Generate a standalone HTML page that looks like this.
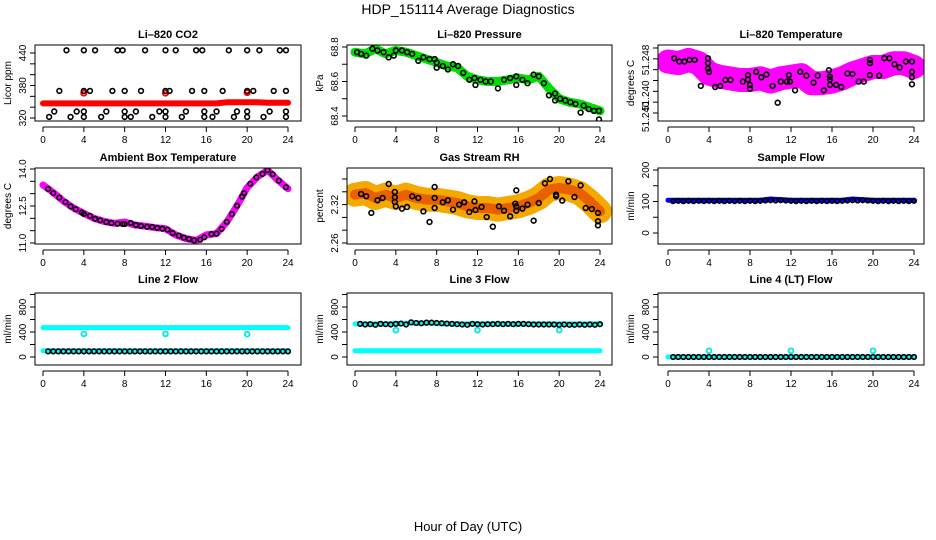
<!DOCTYPE html>
<html><head><meta charset="utf-8"><style>
html,body{margin:0;padding:0;background:#fff;}
svg{display:block;font-family:"Liberation Sans",sans-serif;}
</style></head><body>
<svg id="chart" width="936" height="540" viewBox="0 0 936 540">
<text x="468" y="14" text-anchor="middle" font-size="14">HDP_151114  Average Diagnostics</text>
<text x="468" y="531" text-anchor="middle" font-size="13">Hour of Day (UTC)</text>
</svg>
<script>
// ---------- data ----------
const hours = [0,1,2,3,4,5,6,7,8,9,10,11,12,13,14,15,16,17,18,19,20,21,22,23,24];
const halfHours = [0.5,1,1.5,2,2.5,3,3.5,4,4.5,5,5.5,6,6.5,7,7.5,8,8.5,9,9.5,10,10.5,11,11.5,12,12.5,13,13.5,14,14.5,15,15.5,16,16.5,17,17.5,18,18.5,19,19.5,20,20.5,21,21.5,22,22.5,23,23.5,24];
const xTicks = [0,4,8,12,16,20,24];

// CO2
const co2BlackHours = [2.3,4,5.1,7.3,7.8,10,12,13,15,15.6,18.2,20,21.2,23.2,23.8, 1.6,4,4.6,6.8,8,9.6,12,12.4,14.6,15.8,17.6,20,20.6,22.6,23.8, 1.1,3.3,4,6.2,8,9.1,11.4,12,14,15.8,17,19,20,22.2,23.8, 0.6,2.7,4,5.7,8,8.6,10.7,12,13.6,15.8,16.6,18.7,20,21.6,23.8];
const co2BlackValues = [445,445,445,445,445,445,445,445,445,445,445,445,445,445,445, 370,370,370,370,370,370,370,370,370,370,370,370,370,370,370, 332,332,332,332,332,332,332,332,332,332,332,332,332,332,332, 322,322,322,322,322,322,322,322,322,322,322,322,322,322,322];
const co2RedBand = [347,347,347,347,347,347,347,347,347,347,347,347,347,347,347,347,347,347,349,349,349,349,348,348,348];
const co2RedSpotHours = [4,12,20];
const co2RedSpotValues = [366,366,367];

// Pressure
const presBlackHours = [0.2,0.6,1.1,1.7,2.2,2.8,3.3,3.8,4,4.6,5.1,5.6,6.2,6.7,7.3,7.8,8,8,8.6,9.1,9.6,10.1,10.6,11.2,11.7,11.8,12.3,12.8,13.3,14,14.6,15.2,15.8,15.8,16.4,16.9,17.5,18,18.5,19,19.6,19.6,20.1,20.6,21.1,21.6,22.1,22.4,22.9,23.4,23.9,23.9];
const presBlackValues = [68.77,68.76,68.75,68.79,68.78,68.77,68.74,68.75,68.78,68.78,68.77,68.76,68.72,68.74,68.73,68.73,68.71,68.68,68.69,68.67,68.70,68.69,68.65,68.61,68.62,68.58,68.61,68.60,68.60,68.56,68.61,68.62,68.63,68.58,68.61,68.59,68.64,68.63,68.59,68.52,68.53,68.49,68.50,68.49,68.48,68.47,68.42,68.46,68.44,68.43,68.43,68.38];
const presGreenBand = [68.77,68.76,68.79,68.76,68.78,68.77,68.75,68.73,68.71,68.69,68.68,68.63,68.61,68.60,68.60,68.61,68.62,68.61,68.63,68.56,68.50,68.48,68.47,68.45,68.43];

// Li-820 Temperature
const tempBlackHours = [0.6,1.1,1.6,2.1,2.6,3.2,3.9,3.9,3.9,4,4.6,5.1,5.6,6.1,7.3,7.8,7.8,8,8,8.6,9.1,9.6,10.2,10.7,11,11.6,11.8,11.9,12.4,12.9,13.5,14.2,14.6,15.2,15.7,15.8,15.8,15.8,16.4,16.9,17.5,18,18.6,19.1,19.7,19.7,19.7,20.6,21.1,21.6,22.1,22.6,23.2,23.8,23.8,23.8,23.8];
const tempBlackValues = [51.2481,51.2475,51.2475,51.2478,51.2478,51.2430,51.2481,51.2472,51.2462,51.2456,51.2428,51.2430,51.2441,51.2441,51.2438,51.2450,51.2442,51.2432,51.2425,51.2456,51.2446,51.2451,51.2430,51.2399,51.2438,51.2438,51.2450,51.2438,51.2422,51.2456,51.2449,51.2436,51.2449,51.2422,51.2459,51.2447,51.2442,51.2432,51.2432,51.2428,51.2453,51.2452,51.2438,51.2438,51.2478,51.2472,51.2450,51.2449,51.2481,51.2481,51.2470,51.2464,51.2475,51.2475,51.2456,51.2446,51.2433];
const tempMagentaBand = [51.2475,51.2472,51.2478,51.2472,51.2453,51.2447,51.2444,51.2441,51.2441,51.2444,51.2438,51.2444,51.2447,51.2450,51.2435,51.2435,51.2438,51.2444,51.2453,51.2459,51.2465,51.2465,51.2472,51.2472,51.2465];

// Ambient box temperature
const ambBlackHours = [0.5,1,1.6,2.2,2.7,3.2,3.8,4,4.6,5.1,5.6,6.2,6.7,7.3,7.8,8,8.6,9.1,9.6,10.2,10.7,11.2,11.7,12.2,12.7,13.3,13.8,14.3,14.8,15.4,15.8,16.5,17,17.5,18,18.5,19,19.5,19.7,20.3,20.9,21.5,22,22.5,23.1,23.8];
const ambBlackValues = [13.19,13.02,12.84,12.66,12.48,12.37,12.24,12.18,12.10,11.98,11.92,11.85,11.81,11.78,11.77,11.77,11.81,11.73,11.69,11.66,11.65,11.61,11.58,11.54,11.40,11.30,11.22,11.16,11.11,11.13,11.23,11.36,11.38,11.57,11.85,12.17,12.51,12.88,13.02,13.40,13.66,13.80,13.95,13.79,13.53,13.26];
const ambMagentaBand = [13.35,13.05,12.7,12.42,12.2,12.0,11.87,11.8,11.85,11.73,11.68,11.62,11.58,11.33,11.18,11.1,11.33,11.38,11.85,12.51,13.25,13.68,13.95,13.55,13.2];

// Gas stream RH
const rhBlackHours = [0.6,1.1,1.6,2.2,2.7,3.3,3.9,3.9,3.9,4,4.6,5.1,5.6,6.2,6.7,7.3,7.8,7.8,7.8,8.6,9.1,9.6,10.2,10.7,11.2,11.7,11.8,12.4,12.9,13.5,14.1,14.6,15.2,15.7,15.8,15.8,15.8,16.4,16.9,17.5,18,18.6,19.1,19.7,19.7,20.3,20.9,21.5,22.1,22.6,23.2,23.8,23.8,23.8];
const rhBlackValues = [2.3366,2.3330,2.3070,2.3267,2.3303,2.3522,2.3397,2.3314,2.3241,2.3173,2.3137,2.3163,2.3330,2.3303,2.3095,2.2928,2.3475,2.3303,2.3147,2.3236,2.3267,2.3121,2.3199,2.3236,2.3085,2.3251,2.3116,2.3163,2.3006,2.2855,2.3173,2.3105,2.3017,2.3215,2.3423,2.3105,2.3173,2.3137,2.3199,2.2949,2.3225,2.3533,2.3600,2.3355,2.3330,2.3262,2.3564,2.3319,2.3501,2.3147,2.3131,2.3070,2.2939,2.2876];
const rhOrangeBand = [2.3355,2.3381,2.3303,2.3355,2.3303,2.3355,2.3303,2.3277,2.3277,2.3251,2.3225,2.3173,2.3147,2.3147,2.3121,2.3147,2.3173,2.3225,2.3303,2.3434,2.3460,2.3434,2.3381,2.3251,2.3095];

// Sample flow
const sampleBlueBand = [104,104,104,104,104,104,104,104,104,104,108,106,104,104,104,104,104,104,108,106,104,104,104,104,104];
const sampleBlack = [101,102,101,102,101,102,101,102,101,102,101,102,101,102,101,102,101,102,103,104,103,104,103,102,101,102,101,102,101,102,101,102,101,102,103,104,103,104,103,102,101,102,101,102,101,102,101,102];

// Line 2 flow
const line2CyanHigh = [470,470,470,470,470,470,470,470,470,470,470,470,470,470,470,470,470,470,470,470,470,472,472,472,470];
const line2CyanLow = [100,100,100,100,100,100,100,100,100,100,100,100,100,100,100,100,100,100,100,100,100,100,100,100,100];
const line2Black = [90,90,90,90,90,90,90,90,90,90,90,90,90,90,90,90,90,90,90,90,90,90,90,90,90,90,90,90,90,90,90,90,90,90,90,90,90,90,90,90,90,90,90,90,90,90,90,90];
const line2SpotHours = [4,12,20];
const line2SpotValues = [370,370,365];

// Line 3 flow
const line3CyanHigh = [530,530,530,530,535,540,540,540,535,530,530,530,530,530,530,530,530,530,530,530,530,530,530,530,530];
const line3CyanLow = [100,100,100,100,100,100,100,100,100,100,100,100,100,100,100,100,100,100,100,100,100,100,100,100,100];
const line3Black = [530,520,525,515,530,525,520,530,535,520,555,545,540,550,550,545,540,535,530,525,520,515,530,525,520,525,525,530,525,530,525,530,530,525,520,520,520,520,520,515,520,515,515,520,515,520,515,525];
const line3SpotHours = [4,12,20];
const line3SpotValues = [430,430,430];

// Line 4 flow
const line4CyanBand = [0,0,0,0,0,0,0,0,0,0,0,0,0,0,0,0,0,0,0,0,0,0,0,0,0];
const line4Black = [0,0,0,0,0,0,0,0,0,0,0,0,0,0,0,0,0,0,0,0,0,0,0,0,0,0,0,0,0,0,0,0,0,0,0,0,0,0,0,0,0,0,0,0,0,0,0,0];
const line4SpotHours = [4,12,20];
const line4SpotValues = [100,100,100];

// ---------- drawing ----------
const svg = document.getElementById('chart');
const NS = 'http://www.w3.org/2000/svg';
function mk(tag, attrs, parent){
  const e = document.createElementNS(NS, tag);
  for (const k in attrs) e.setAttribute(k, attrs[k]);
  (parent||svg).appendChild(e);
  return e;
}
const cols = [
  {bx0:35, bx1:301, h0:43, h24:288},
  {bx0:347, bx1:612, h0:355, h24:600},
  {bx0:658, bx1:924, h0:668, h24:914}
];
const rows = [
  {by0:45, by1:121, ty:38},
  {by0:168, by1:244, ty:161},
  {by0:293, by1:365, ty:283}
];

function makePanel(name, r, c, title, ylab, va, pa, vb, pb, yticks, ylabels){
  const R = rows[r], C = cols[c];
  const g = mk('g', {});
  
  
  const xs = h => C.h0 + (h/24)*(C.h24 - C.h0);
  const ys = v => pa + (v - va)*(pb - pa)/(vb - va);
  const t = mk('text', {x:(C.bx0+C.bx1)/2, y:R.ty, 'text-anchor':'middle', 'font-size':11, 'font-weight':'bold'}, g);
  t.textContent = title;
  
  
  const yl = mk('text', {x:0, y:0, 'text-anchor':'middle', 'font-size':10, transform:`translate(${C.bx0-24},${(R.by0+R.by1)/2}) rotate(-90)`}, g);
  yl.textContent = ylab;
  
  
  const ax = R.by1 + 6;
  const xl = mk('line', {x1:xs(0), x2:xs(24), y1:ax, y2:ax, stroke:'#000'}, g);
  
  
  xTicks.forEach(h => {
    mk('line', {x1:xs(h), x2:xs(h), y1:ax, y2:ax+5, stroke:'#000'}, g);
    const tl = mk('text', {x:xs(h), y:ax+16, 'text-anchor':'middle', 'font-size':10}, g);
    tl.textContent = String(h);
    
    
  });
  yticks.forEach(v => mk('line', {x1:C.bx0-5, x2:C.bx0, y1:ys(v), y2:ys(v), stroke:'#000'}, g));
  ylabels.forEach(lv => {
    const tl = mk('text', {x:0, y:0, 'text-anchor':'middle', 'font-size':10, transform:`translate(${C.bx0-9},${ys(lv[0])}) rotate(-90)`}, g);
    tl.textContent = lv[1];
    
    
  });
  const cid = 'clip-' + name;
  const cp = mk('clipPath', {id:cid}, g);
  mk('rect', {x:C.bx0, y:R.by0, width:C.bx1-C.bx0, height:R.by1-R.by0}, cp);
  const plot = mk('g', {'clip-path':`url(#${cid})`}, g);
  
  
  const box = mk('rect', {x:C.bx0, y:R.by0, width:C.bx1-C.bx0, height:R.by1-R.by0, fill:'none', stroke:'#000'}, g);
  
  
  return {plot, xs, ys, name};
}
function band(P, xsArr, vals, color, width, nm){
  const pts = xsArr.map((h,i) => P.xs(h).toFixed(1) + ',' + P.ys(vals[i]).toFixed(1)).join(' ');
  const pl = mk('polyline', {points:pts, fill:'none', stroke:color, 'stroke-width':width, 'stroke-linejoin':'round', 'stroke-linecap':'round'}, P.plot);
  
  
}
function pts(P, xsArr, vals, color, r, sw, nm){
  xsArr.forEach((h,i) => {
    const c = mk('circle', {cx:P.xs(h), cy:P.ys(vals[i]), r:r, fill:'none', stroke:color, 'stroke-width':sw}, P.plot);
    
    
  });
}

let P = makePanel('co2', 0, 0, 'Li\u2013820 CO2', 'Licor ppm', 320, 118, 440, 53,
  [320,340,360,380,400,420,440], [[320,'320'],[380,'380'],[440,'440']]);
band(P, hours, co2RedBand, '#ff0000', 6, 'red-series');
pts(P, co2RedSpotHours, co2RedSpotValues, '#ff0000', 2.6, 2, 'red-point');
pts(P, co2BlackHours, co2BlackValues, '#000', 2.4, 1.6, 'black-point');

P = makePanel('pressure', 0, 1, 'Li\u2013820 Pressure', 'kPa', 68.4, 116, 68.8, 47,
  [68.4,68.5,68.6,68.7,68.8], [[68.4,'68.4'],[68.6,'68.6'],[68.8,'68.8']]);
band(P, hours, presGreenBand, '#00e000', 9, 'green-series');
pts(P, presBlackHours, presBlackValues, '#000', 2.4, 1.6, 'black-point');

P = makePanel('li820-temperature', 0, 2, 'Li\u2013820 Temperature', 'degrees C', 51.238, 113, 51.250, 48,
  [51.238,51.240,51.242,51.244,51.246,51.248,51.250], [[51.2373,'51.240'],[51.2412,'51.240'],[51.2478,'51.248']]);
band(P, hours, tempMagentaBand, '#ff00ff', 24, 'magenta-series');
pts(P, tempBlackHours, tempBlackValues, '#000', 2.4, 1.6, 'black-point');

P = makePanel('ambient-temperature', 1, 0, 'Ambient Box Temperature', 'degrees C', 11, 243, 14, 169,
  [11,11.5,12,12.5,13,13.5,14], [[11,'11.0'],[12.5,'12.5'],[14,'14.0']]);
band(P, hours, ambMagentaBand, '#ff00ff', 7, 'magenta-series');
pts(P, ambBlackHours, ambBlackValues, '#000', 2.3, 1.6, 'black-point');

P = makePanel('gas-stream-rh', 1, 1, 'Gas Stream RH', 'percent', 2.26, 243, 2.36, 179,
  [2.26,2.28,2.30,2.32,2.34,2.36], [[2.26,'2.26'],[2.32,'2.32']]);
band(P, hours, rhOrangeBand, '#f5a800', 24, 'orange-series');
band(P, hours, rhOrangeBand, '#e86000', 10, 'orange-core');
pts(P, rhBlackHours, rhBlackValues, '#000', 2.4, 1.6, 'black-point');

P = makePanel('sample-flow', 1, 2, 'Sample Flow', 'ml/min', 0, 233, 200, 170,
  [0,50,100,150,200], [[0,'0'],[100,'100'],[200,'200']]);
band(P, hours, sampleBlueBand, '#0000ff', 5, 'blue-series');
pts(P, halfHours, sampleBlack, '#000', 2.3, 1.6, 'black-point');

P = makePanel('line2-flow', 2, 0, 'Line 2 Flow', 'ml/min', 0, 357, 800, 307,
  [0,200,400,600,800,1000], [[0,'0'],[400,'400'],[800,'800']]);
band(P, hours, line2CyanHigh, '#00ffff', 5, 'cyan-high-series');
band(P, hours, line2CyanLow, '#00ffff', 5, 'cyan-low-series');
pts(P, line2SpotHours, line2SpotValues, '#00e8e8', 2.4, 1.8, 'cyan-point');
pts(P, halfHours, line2Black, '#000', 2.3, 1.6, 'black-point');

P = makePanel('line3-flow', 2, 1, 'Line 3 Flow', 'ml/min', 0, 357, 800, 307,
  [0,200,400,600,800,1000], [[0,'0'],[400,'400'],[800,'800']]);
band(P, hours, line3CyanHigh, '#00ffff', 5, 'cyan-high-series');
band(P, hours, line3CyanLow, '#00ffff', 5, 'cyan-low-series');
pts(P, line3SpotHours, line3SpotValues, '#00e8e8', 2.4, 1.8, 'cyan-point');
pts(P, halfHours, line3Black, '#000', 2.3, 1.6, 'black-point');

P = makePanel('line4-flow', 2, 2, 'Line 4 (LT) Flow', 'ml/min', 0, 357, 800, 307,
  [0,200,400,600,800,1000], [[0,'0'],[400,'400'],[800,'800']]);
band(P, hours, line4CyanBand, '#00ffff', 5, 'cyan-series');
pts(P, line4SpotHours, line4SpotValues, '#00e8e8', 2.4, 1.8, 'cyan-point');
pts(P, halfHours, line4Black, '#000', 2.3, 1.6, 'black-point');
</script>
</body></html>
